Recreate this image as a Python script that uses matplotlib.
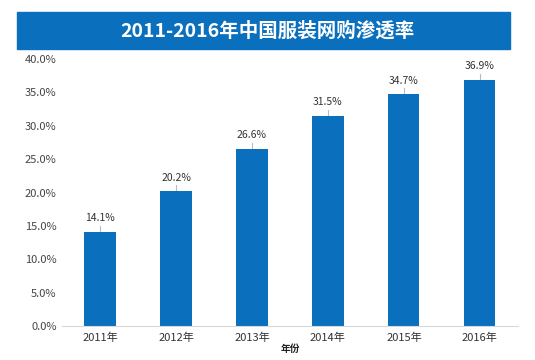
import matplotlib.pyplot as plt
from matplotlib.patches import Rectangle

plt.rcParams['font.family'] = ['Noto Sans CJK SC', 'DejaVu Sans']

years = ['2011年', '2012年', '2013年', '2014年', '2015年', '2016年']
rates = [14.1, 20.2, 26.6, 31.5, 34.7, 36.9]
yticks = [0, 5, 10, 15, 20, 25, 30, 35, 40]

blue = '#0a6fbd'
text_col = '#333333'

fig = plt.figure(figsize=(5.35, 3.6), dpi=100)
ax = fig.add_axes([0.116, 0.094, 0.852, 0.742])

x = range(len(years))
ax.bar(x, rates, width=0.41, color=blue, zorder=2)

# value labels with small leader ticks
for xi, v in zip(x, rates):
    ax.plot([xi, xi], [v, v + 0.9], color='#bbbbbb', lw=0.8, zorder=1)
    ax.text(xi, v + 1.3, f'{v:.1f}%', ha='center', va='bottom',
            fontsize=7.5, color=text_col)

ax.set_xlim(-0.5, len(years) - 0.5)
ax.set_ylim(0, 40)
ax.set_yticks(yticks)
ax.set_yticklabels([f'{t:.1f}%' for t in yticks], fontsize=8, color='#444444')
ax.set_xticks(list(x))
ax.set_xticklabels(years, fontsize=8, color=text_col)
ax.tick_params(length=0, pad=4)
ax.tick_params(axis='x', pad=5)
for s in ['top', 'right', 'left']:
    ax.spines[s].set_visible(False)
ax.spines['bottom'].set_color('#d9d9d9')

ax.set_xlabel('年份', fontsize=7, fontweight='bold', color='#222222', labelpad=0)

# title banner
fig.patches.append(Rectangle((17 / 535, 1 - 49 / 360), (510 - 17) / 535, 37 / 360,
                             transform=fig.transFigure, color=blue, zorder=0))
fig.text(0.5, 1 - 31 / 360, '2011-2016年中国服装网购渗透率', ha='center', va='center',
         fontsize=14, fontweight='bold', color='white')

plt.savefig('out.png', dpi=100)
